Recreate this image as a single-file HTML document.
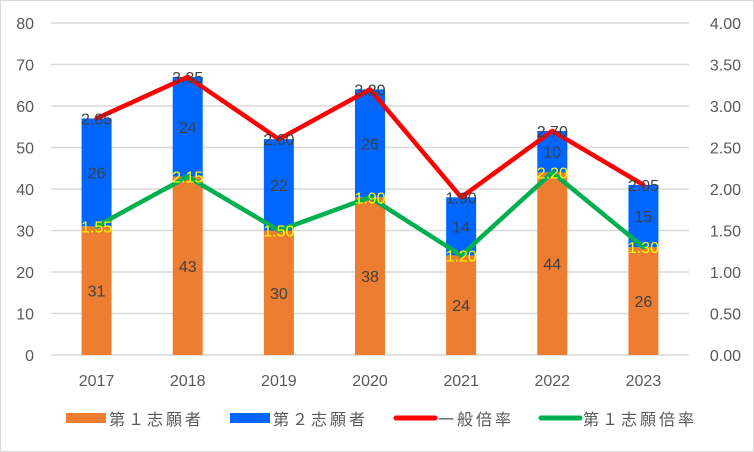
<!DOCTYPE html>
<html><head><meta charset="utf-8"><style>
body{margin:0;background:#fff}
svg{display:block;font-family:"Liberation Sans","Noto Sans CJK JP",sans-serif}
</style></head><body>
<svg id="c" width="754" height="452">
<rect x="0.5" y="0.5" width="753" height="451" fill="#fff" stroke="#d9d9d9"/>
<g id="grid"></g><g id="bars"></g><g id="lines"></g><g id="labels"></g><g id="axes"></g>
<g font-size="16" fill="#595959" letter-spacing="3">
<rect x="66" y="413" width="40" height="10" fill="#ED7D31"/>
<text x="109" y="425">第１志願者</text>
<rect x="230" y="413" width="40" height="10" fill="#0066FF"/>
<text x="273" y="425">第２志願者</text>
<line x1="396" y1="418" x2="435" y2="418" stroke="#FF0000" stroke-width="5" stroke-linecap="round"/>
<text x="438" y="425">一般倍率</text>
<line x1="541" y1="418" x2="580" y2="418" stroke="#00B050" stroke-width="5" stroke-linecap="round"/>
<text x="583" y="425">第１志願倍率</text>
</g>
</svg>
<script>
const categories=["2017","2018","2019","2020","2021","2022","2023"];
const firstApplicants=[31,43,30,38,24,44,26];
const secondApplicants=[26,24,22,26,14,10,15];
const generalRate=[2.85,3.35,2.60,3.20,1.90,2.70,2.05];
const firstRate=[1.55,2.15,1.50,1.90,1.20,2.20,1.30];
const leftTicks=[0,10,20,30,40,50,60,70,80];
const rightTicks=["0.00","0.50","1.00","1.50","2.00","2.50","3.00","3.50","4.00"];

const NS="http://www.w3.org/2000/svg";
const x0=51,x1=689,yTop=23,yBot=355;
const step=(x1-x0)/categories.length;
const xc=i=>x0+step*(i+0.5);
const yL=v=>yBot-(v/80)*(yBot-yTop);
const yR=v=>yBot-(v/4)*(yBot-yTop);
function mk(tag,attrs,parent,text){const e=document.createElementNS(NS,tag);for(const k in attrs)e.setAttribute(k,attrs[k]);if(text!==undefined)e.textContent=text;document.getElementById(parent).appendChild(e);return e;}

leftTicks.forEach((t,i)=>{
  const y=yL(t);
  const g=mk('line',{x1:x0,x2:x1,y1:y,y2:y,stroke:'#d9d9d9','stroke-width':1.5},'grid');
  
  
  const l=mk('text',{x:34,y:y+6,'text-anchor':'end','font-size':16,fill:'#595959'},'axes',t);
  
  
  const r=mk('text',{x:741,y:y+6,'text-anchor':'end','font-size':16,fill:'#595959'},'axes',rightTicks[i]);
  
  
});
const bw=30;
categories.forEach((c,i)=>{
  const x=xc(i);
  const b1=mk('rect',{x:x-bw/2,y:yL(firstApplicants[i]),width:bw,height:yBot-yL(firstApplicants[i]),fill:'#ED7D31'},'bars');
  
  
  const tot=firstApplicants[i]+secondApplicants[i];
  const b2=mk('rect',{x:x-bw/2,y:yL(tot),width:bw,height:yL(firstApplicants[i])-yL(tot),fill:'#0066FF'},'bars');
  
  
  const t1=mk('text',{x:x,y:(yL(firstApplicants[i])+yBot)/2+6,'text-anchor':'middle','font-size':16,fill:'#404040'},'labels',firstApplicants[i]);
  
  
  const t2=mk('text',{x:x,y:(yL(tot)+yL(firstApplicants[i]))/2+6,'text-anchor':'middle','font-size':16,fill:'#404040'},'labels',secondApplicants[i]);
  
  
  const t3=mk('text',{x:x,y:yR(generalRate[i])+6,'text-anchor':'middle','font-size':16,fill:'#404040'},'labels',generalRate[i].toFixed(2));
  
  
  const t4=mk('text',{x:x,y:yR(firstRate[i])+6,'text-anchor':'middle','font-size':16,fill:'#FFFF00'},'labels',firstRate[i].toFixed(2));
  
  
  const ct=mk('text',{x:x,y:386,'text-anchor':'middle','font-size':16,fill:'#595959'},'axes',c);
  
  
});
const p1=mk('polyline',{points:generalRate.map((v,i)=>xc(i)+','+yR(v)).join(' '),fill:'none',stroke:'#FF0000','stroke-width':4.5,'stroke-linejoin':'round','stroke-linecap':'round'},'lines');


const p2=mk('polyline',{points:firstRate.map((v,i)=>xc(i)+','+yR(v)).join(' '),fill:'none',stroke:'#00B050','stroke-width':4.5,'stroke-linejoin':'round','stroke-linecap':'round'},'lines');


</script>
</body></html>
